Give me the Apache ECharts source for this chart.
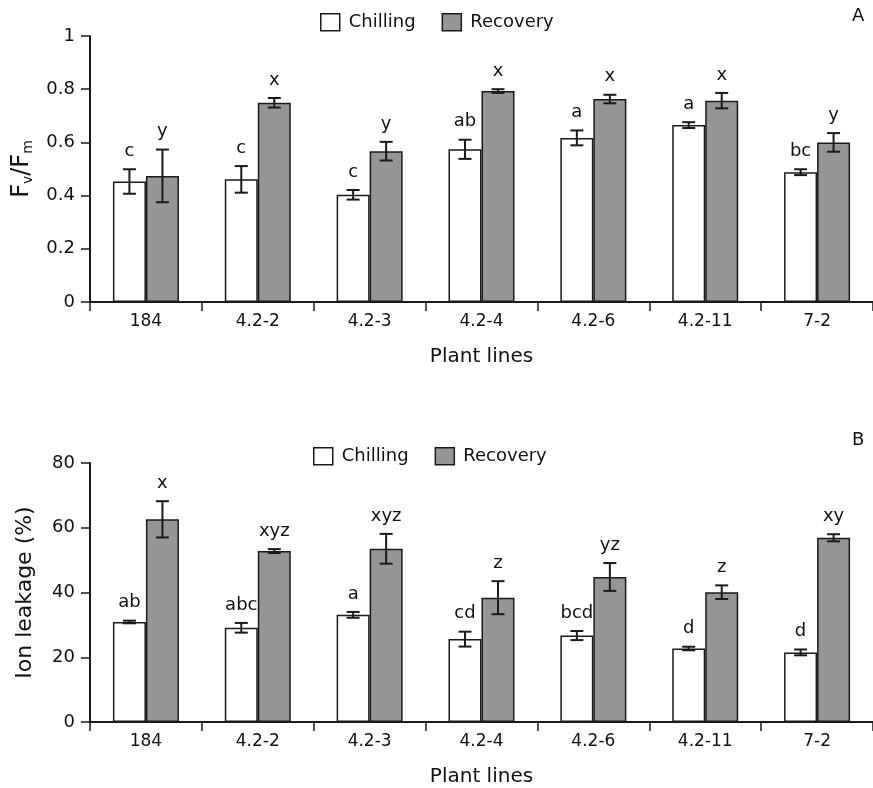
<!DOCTYPE html>
<html>
<head>
<meta charset="utf-8">
<script src="https://cdn.jsdelivr.net/npm/echarts@6/dist/echarts.min.js"></script>
<style>html,body{margin:0;padding:0;background:#fff}#c{width:873px;height:788px}</style>
</head>
<body>
<div id="c"></div>
<script>
const categories = ['184', '4.2-2', '4.2-3', '4.2-4', '4.2-6', '4.2-11', '7-2'];

// Panel A: Fv/Fm
const fvfmChilling = [0.453, 0.461, 0.403, 0.574, 0.617, 0.665, 0.488];
const fvfmChillingErr = [0.046, 0.050, 0.018, 0.036, 0.028, 0.011, 0.011];
const fvfmChillingLetters = ['c', 'c', 'c', 'ab', 'a', 'a', 'bc'];
const fvfmRecovery = [0.474, 0.749, 0.567, 0.793, 0.763, 0.757, 0.600];
const fvfmRecoveryErr = [0.099, 0.018, 0.035, 0.007, 0.016, 0.029, 0.035];
const fvfmRecoveryLetters = ['y', 'x', 'y', 'x', 'x', 'x', 'y'];

// Panel B: Ion leakage (%)
const ionChilling = [30.9, 29.1, 33.1, 25.6, 26.7, 22.7, 21.5];
const ionChillingErr = [0.4, 1.5, 0.9, 2.3, 1.4, 0.55, 0.9];
const ionChillingLetters = ['ab', 'abc', 'a', 'cd', 'bcd', 'd', 'd'];
const ionRecovery = [62.6, 52.8, 53.5, 38.4, 44.8, 40.1, 56.9];
const ionRecoveryErr = [5.6, 0.6, 4.6, 5.1, 4.3, 2.1, 1.1];
const ionRecoveryLetters = ['x', 'xyz', 'xyz', 'z', 'yz', 'z', 'xy'];

const FONT = '"DejaVu Sans", "Liberation Sans", Arial, sans-serif';
const BAR_W = 33;
const DARK = '#1a1a1a';
const TXT = '#111';

function errSeries(vals, errs, letters, side, axisIdx) {
  return {
    type: 'custom',
    xAxisIndex: axisIdx, yAxisIndex: axisIdx,
    z: 5,
    silent: true,
    data: vals.map((v, i) => [i, v, errs[i]]),
    renderItem: function (params, api) {
      const i = api.value(0), v = api.value(1), e = api.value(2);
      const x = api.coord([i, 0])[0] + side * BAR_W / 2;
      const yt = api.coord([i, v + e])[1];
      const yb = api.coord([i, v - e])[1];
      const cap = 6.5;
      const st = { stroke: DARK, lineWidth: 2 };
      return {
        type: 'group',
        children: [
          { type: 'line', shape: { x1: x, y1: yt, x2: x, y2: yb }, style: st },
          { type: 'line', shape: { x1: x - cap, y1: yt, x2: x + cap, y2: yt }, style: st },
          { type: 'line', shape: { x1: x - cap, y1: yb, x2: x + cap, y2: yb }, style: st },
          { type: 'text', x: x, y: yt - 9,
            style: { text: letters[params.dataIndex], fill: TXT, font: '18px ' + FONT,
                     textAlign: 'center', textVerticalAlign: 'bottom' } }
        ]
      };
    }
  };
}

function barSeries(name, vals, color, axisIdx) {
  return {
    name: name, type: 'bar', xAxisIndex: axisIdx, yAxisIndex: axisIdx,
    barWidth: BAR_W, barGap: '0%',
    itemStyle: { color: color, borderColor: DARK, borderWidth: 1.5 },
    data: vals
  };
}

function xAxisCfg(gi) {
  return {
    type: 'category', gridIndex: gi, data: categories,
    name: 'Plant lines', nameLocation: 'middle', nameGap: 45,
    nameTextStyle: { fontSize: 20, color: TXT, fontFamily: FONT },
    axisLine: { lineStyle: { color: DARK, width: 2 } },
    axisTick: { show: true, alignWithLabel: false, length: 9, lineStyle: { color: DARK, width: 1.5 } },
    axisLabel: { fontSize: 17, color: TXT, fontFamily: FONT, margin: 11 },
    splitLine: { show: false }
  };
}

function legendCfg(top) {
  return {
    left: 320, top: top, padding: 0, itemWidth: 19, itemHeight: 17, itemGap: 26, icon: 'rect',
    data: ['Chilling', 'Recovery'],
    itemStyle: { borderColor: DARK, borderWidth: 1.5 },
    textStyle: { fontSize: 18, color: TXT, fontFamily: FONT, padding: [0, 0, 0, 4] }
  };
}

const chart = echarts.init(document.getElementById('c'));
chart.setOption({
  animation: false,
  backgroundColor: '#fff',
  textStyle: { fontFamily: FONT },
  title: [
    { text: 'A', left: 852, top: 7, padding: 0, textStyle: { fontSize: 18, fontWeight: 'normal', color: TXT, fontFamily: FONT } },
    { text: 'B', left: 852, top: 431, padding: 0, textStyle: { fontSize: 18, fontWeight: 'normal', color: TXT, fontFamily: FONT } }
  ],
  legend: [ legendCfg(13), Object.assign(legendCfg(447), { left: 313 }) ],
  grid: [
    { left: 90, top: 36, right: 0, height: 266 },
    { left: 90, top: 463, right: 0, height: 259 }
  ],
  xAxis: [xAxisCfg(0), xAxisCfg(1)],
  yAxis: [
    { type: 'value', gridIndex: 0, min: 0, max: 1, interval: 0.2,
      name: '{n|F}{s|v}{n|/F}{s|m}', nameLocation: 'middle', nameGap: 55, nameRotate: 90,
      nameTextStyle: { rich: {
        n: { fontSize: 24, color: TXT, fontFamily: FONT },
        s: { fontSize: 14, color: TXT, fontFamily: FONT, padding: [12, 0, 0, 0] } } },
      axisLine: { show: true, lineStyle: { color: DARK, width: 2 } },
      axisTick: { show: true, length: 9, lineStyle: { color: DARK, width: 1.5 } },
      axisLabel: { fontSize: 18, color: TXT, fontFamily: FONT, margin: 15 },
      splitLine: { show: false } },
    { type: 'value', gridIndex: 1, min: 0, max: 80, interval: 20,
      name: 'Ion leakage (%)', nameLocation: 'middle', nameGap: 54, nameRotate: 90,
      nameTextStyle: { fontSize: 22, color: TXT, fontFamily: FONT },
      axisLine: { show: true, lineStyle: { color: DARK, width: 2 } },
      axisTick: { show: true, length: 9, lineStyle: { color: DARK, width: 1.5 } },
      axisLabel: { fontSize: 18, color: TXT, fontFamily: FONT, margin: 15 },
      splitLine: { show: false } }
  ],
  series: [
    barSeries('Chilling', fvfmChilling, '#ffffff', 0),
    barSeries('Recovery', fvfmRecovery, '#969696', 0),
    errSeries(fvfmChilling, fvfmChillingErr, fvfmChillingLetters, -1, 0),
    errSeries(fvfmRecovery, fvfmRecoveryErr, fvfmRecoveryLetters, 1, 0),
    barSeries('Chilling', ionChilling, '#ffffff', 1),
    barSeries('Recovery', ionRecovery, '#969696', 1),
    errSeries(ionChilling, ionChillingErr, ionChillingLetters, -1, 1),
    errSeries(ionRecovery, ionRecoveryErr, ionRecoveryLetters, 1, 1)
  ]
});
</script>
</body>
</html>
